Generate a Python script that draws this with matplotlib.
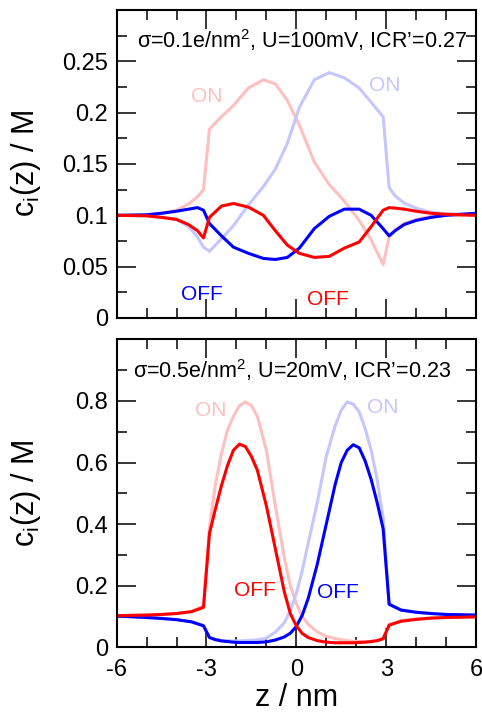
import matplotlib
matplotlib.use("Agg")
import matplotlib.pyplot as plt
from matplotlib.ticker import MultipleLocator

plt.rcParams.update({
    'font.family': ['Liberation Sans', 'DejaVu Sans'],
    'mathtext.fontset': 'custom',
    'mathtext.rm': 'Liberation Sans',
    'mathtext.it': 'Liberation Sans',
    'mathtext.default': 'regular',
    'axes.linewidth': 1.5,
})

# --- sigma = 0.1 e/nm^2, U = 100 mV ---
z_top = [-6, -5, -4.5, -4, -3.6, -3.3, -3.1, -2.9, -2.5, -2.1, -1.6, -1.1, -0.7,
         -0.3, 0.1, 0.6, 1.1, 1.6, 2.1, 2.5, 2.9, 3.1, 3.3, 3.6, 4, 4.5, 5, 6]
red_on_top = [0.100, 0.1005, 0.102, 0.105, 0.111, 0.118, 0.125, 0.184, 0.196, 0.207,
              0.224, 0.232, 0.228, 0.212, 0.188, 0.152, 0.130, 0.114, 0.095, 0.076,
              0.052, 0.079, 0.086, 0.092, 0.096, 0.099, 0.100, 0.100]
blue_on_top = [0.100, 0.0995, 0.098, 0.096, 0.089, 0.079, 0.069, 0.065, 0.077, 0.090,
               0.110, 0.128, 0.145, 0.170, 0.205, 0.232, 0.239, 0.234, 0.224, 0.210,
               0.196, 0.127, 0.119, 0.112, 0.107, 0.103, 0.1015, 0.101]
blue_off_top = [0.100, 0.1005, 0.102, 0.104, 0.106, 0.1075, 0.105, 0.092, 0.080, 0.069,
                0.063, 0.058, 0.057, 0.059, 0.068, 0.087, 0.099, 0.106, 0.106, 0.100,
                0.087, 0.080, 0.085, 0.091, 0.095, 0.098, 0.100, 0.102]
red_off_top = [0.100, 0.0995, 0.098, 0.096, 0.091, 0.085, 0.078, 0.098, 0.109, 0.1115,
               0.108, 0.100, 0.085, 0.071, 0.063, 0.059, 0.060, 0.068, 0.074, 0.089,
               0.105, 0.1075, 0.107, 0.106, 0.104, 0.102, 0.101, 0.100]

# --- sigma = 0.5 e/nm^2, U = 20 mV ---
z_bot = [-6, -5, -4.5, -4, -3.5, -3.1, -2.9, -2.7, -2.5, -2.3, -2.1, -1.9, -1.7, -1.5,
         -1.3, -1.0, -0.7, -0.4, -0.2, 0, 0.2, 0.4, 0.7, 1.0, 1.3, 1.5, 1.7, 1.9, 2.1,
         2.3, 2.5, 2.7, 2.9, 3.1, 3.5, 4, 4.5, 5, 6]
red_on_bot = [0.103, 0.105, 0.107, 0.110, 0.117, 0.135, 0.390, 0.530, 0.630, 0.705,
              0.750, 0.785, 0.797, 0.785, 0.750, 0.640, 0.460, 0.290, 0.200, 0.143,
              0.100, 0.075, 0.050, 0.036, 0.029, 0.025, 0.022, 0.020, 0.019, 0.019,
              0.020, 0.023, 0.029, 0.075, 0.087, 0.092, 0.096, 0.098, 0.100]
red_off_bot = [0.103, 0.105, 0.107, 0.110, 0.116, 0.130, 0.370, 0.450, 0.525, 0.590,
               0.640, 0.660, 0.652, 0.620, 0.575, 0.460, 0.320, 0.180, 0.110, 0.070,
               0.045, 0.032, 0.022, 0.017, 0.015, 0.015, 0.015, 0.015, 0.016, 0.017,
               0.019, 0.022, 0.028, 0.072, 0.085, 0.091, 0.095, 0.097, 0.099]
blue_off_bot = [0.102, 0.097, 0.094, 0.090, 0.083, 0.070, 0.032, 0.025, 0.021, 0.019,
                0.017, 0.016, 0.016, 0.016, 0.016, 0.018, 0.024, 0.034, 0.046, 0.068,
                0.105, 0.160, 0.270, 0.400, 0.530, 0.600, 0.640, 0.658, 0.648, 0.605,
                0.545, 0.470, 0.385, 0.140, 0.121, 0.114, 0.110, 0.107, 0.105]
blue_on_bot = [0.102, 0.097, 0.094, 0.090, 0.083, 0.072, 0.032, 0.026, 0.023, 0.022,
               0.021, 0.021, 0.022, 0.023, 0.025, 0.030, 0.050, 0.080, 0.120, 0.175,
               0.250, 0.340, 0.470, 0.620, 0.720, 0.770, 0.797, 0.790, 0.765, 0.710,
               0.640, 0.545, 0.420, 0.142, 0.122, 0.115, 0.110, 0.107, 0.105]

titles = ['σ=0.1e/nm$^{2}$, U=100mV, ICR’=0.27',
          'σ=0.5e/nm$^{2}$, U=20mV, ICR’=0.23']

RED, BLUE = '#ff0000', '#0000ff'
PINK, LAVENDER = '#ffbfbf', '#c6c6ff'

fig = plt.figure(figsize=(4.82, 7.13), dpi=100)
ax1 = fig.add_axes([0.242, 0.554, 0.7455, 0.432])
ax2 = fig.add_axes([0.242, 0.092, 0.7455, 0.432])

lw = 2.2
ax1.plot(z_top, red_on_top, color=PINK, lw=lw)
ax1.plot(z_top, blue_on_top, color=LAVENDER, lw=lw)
ax1.plot(z_top, blue_off_top, color=BLUE, lw=lw)
ax1.plot(z_top, red_off_top, color=RED, lw=lw)

ax2.plot(z_bot, red_on_bot, color=PINK, lw=lw)
ax2.plot(z_bot, blue_on_bot, color=LAVENDER, lw=lw)
ax2.plot(z_bot, blue_off_bot, color=BLUE, lw=lw)
ax2.plot(z_bot, red_off_bot, color=RED, lw=lw)

lab_fs = 15
ax1.text(-3.0, 0.216, 'ON', color=PINK, fontsize=lab_fs, ha='center', va='center')
ax1.text(2.97, 0.226, 'ON', color=LAVENDER, fontsize=lab_fs, ha='center', va='center')
ax1.text(-3.15, 0.023, 'OFF', color=BLUE, fontsize=lab_fs, ha='center', va='center')
ax1.text(1.05, 0.018, 'OFF', color=RED, fontsize=lab_fs, ha='center', va='center')

ax2.text(-2.87, 0.77, 'ON', color=PINK, fontsize=lab_fs, ha='center', va='center')
ax2.text(2.9, 0.778, 'ON', color=LAVENDER, fontsize=lab_fs, ha='center', va='center')
ax2.text(-1.4, 0.186, 'OFF', color=RED, fontsize=lab_fs, ha='center', va='center')
ax2.text(1.38, 0.178, 'OFF', color=BLUE, fontsize=lab_fs, ha='center', va='center')

ax1.text(0.517, 0.903, titles[0], transform=ax1.transAxes, fontsize=15.5,
         ha='center', va='center')
ax2.text(0.487, 0.90, titles[1], transform=ax2.transAxes, fontsize=15.5,
         ha='center', va='center')

ax1.set_ylim(0, 0.3)
ax1.yaxis.set_minor_locator(MultipleLocator(0.025))
ax1.set_yticks([0, 0.05, 0.1, 0.15, 0.2, 0.25])
ax1.set_yticklabels(['0', '0.05', '0.1', '0.15', '0.2', '0.25'])

ax2.set_ylim(0, 1.0)
ax2.set_yticks([0, 0.2, 0.4, 0.6, 0.8])
ax2.set_yticklabels(['0', '0.2', '0.4', '0.6', '0.8'])
ax2.yaxis.set_minor_locator(MultipleLocator(0.1))

for ax in (ax1, ax2):
    ax.set_xlim(-6, 6)
    ax.set_xticks([-6, -3, 0, 3, 6])
    ax.xaxis.set_minor_locator(MultipleLocator(1))
    ax.tick_params(which='both', direction='in', top=True, right=True,
                   labelsize=17, width=1.1)
    ax.tick_params(which='major', length=14)
    ax.tick_params(which='minor', length=7)
    ax.tick_params(axis='y', pad=6)
    ax.tick_params(axis='x', pad=8)
    ax.set_ylabel('c$_\\mathregular{i}$(z) / M', fontsize=22)
    ax.yaxis.set_label_coords(-0.205, 0.5)

ax1.tick_params(axis='x', labelbottom=False)
ax2.set_xticklabels(['-6', '-3', '0', '3', '6'])
ax2.set_xlabel('z / nm', fontsize=22, labelpad=2)

fig.savefig('out.png', dpi=100)
